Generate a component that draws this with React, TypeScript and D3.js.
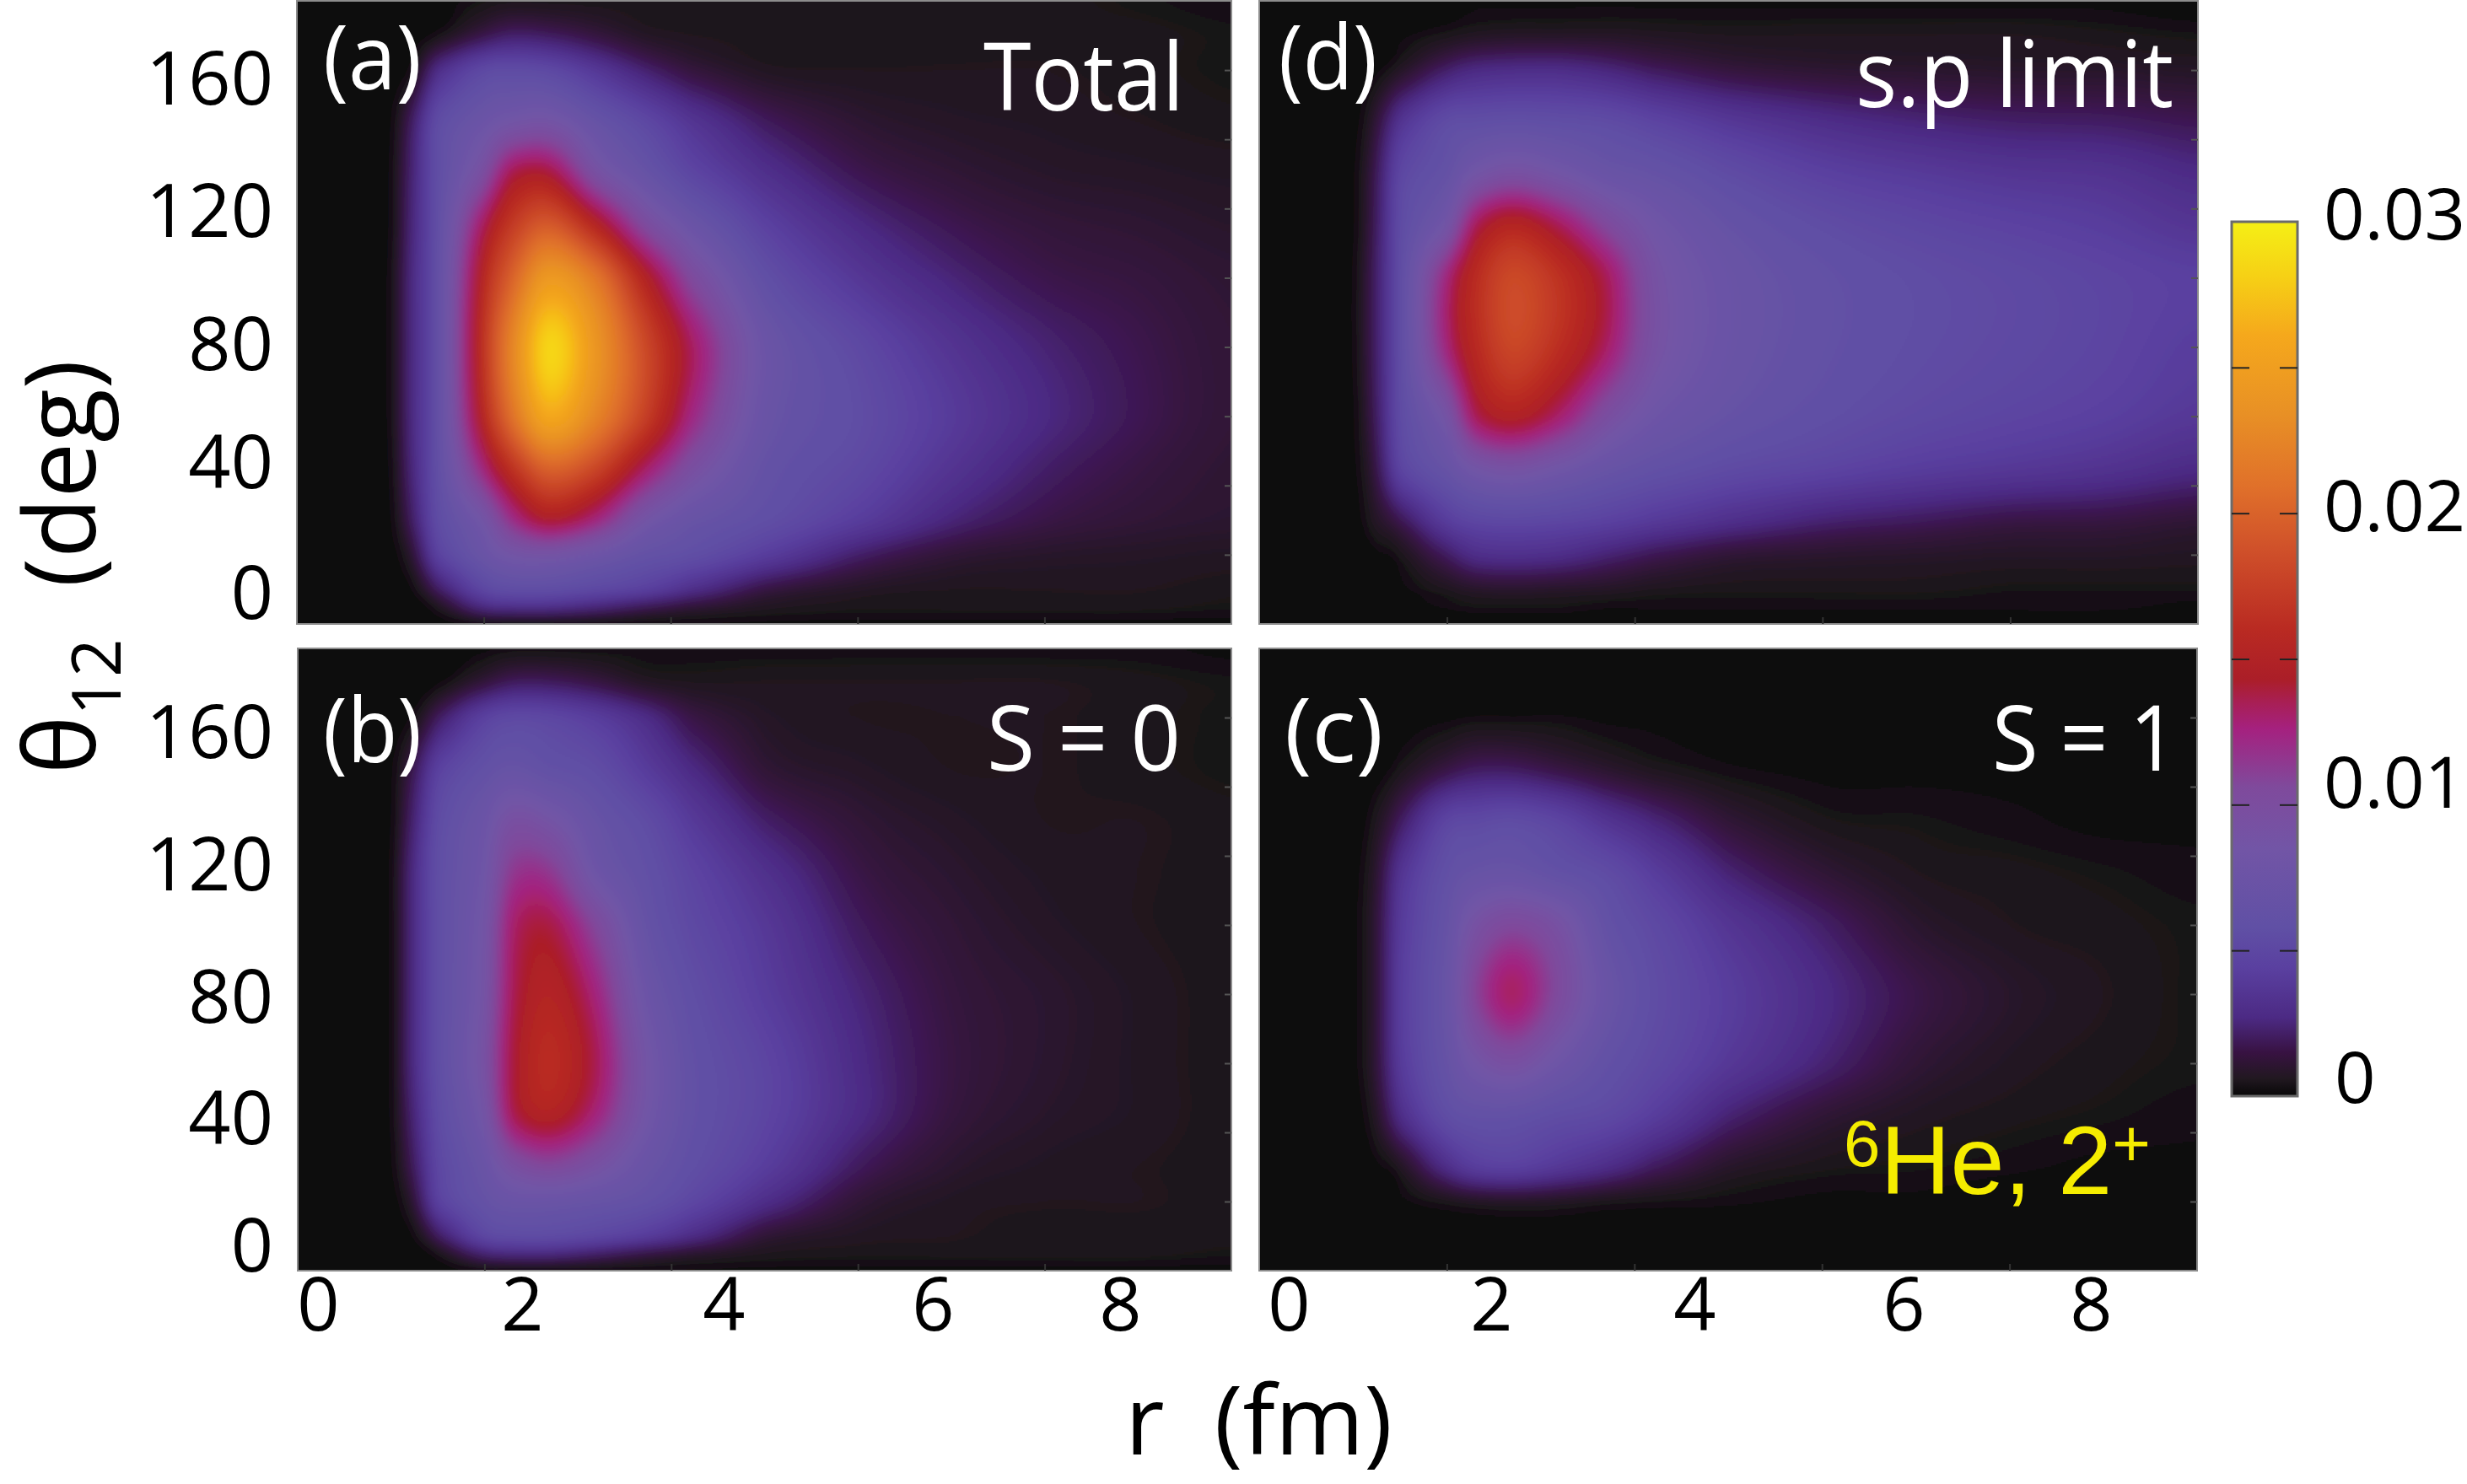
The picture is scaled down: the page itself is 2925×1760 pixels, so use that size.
import { useRef, useEffect } from "react";
import * as d3 from "d3";

// grid the maps were read on: r in fm (true frame axis 0-10), theta in deg, top row first
const rGrid = [0, 0.7, 1, 1.25, 1.5, 2, 2.3, 2.7, 3.2, 3.7, 4.2, 5, 6, 7, 8, 9, 10];
const thetaGrid = [180, 170, 160, 145, 130, 115, 100, 80, 60, 45, 30, 20, 10, 5, 0];

const totalMap = [
  [0, 0, 0, 0, 0.0001, 0.0004, 0.0005, 0.0005, 0.0005, 0.0005, 0.0005, 0.0005, 0.0005, 0.0005, 0.0005, 0.0004, 0.0003],
  [0, 0, 0, 0.0001, 0.0004, 0.0016, 0.0022, 0.002, 0.0014, 0.0008, 0.0006, 0.0005, 0.0005, 0.0005, 0.0005, 0.0005, 0.0004],
  [0, 0, 0, 0.0005, 0.003, 0.0052, 0.0055, 0.0052, 0.0038, 0.0024, 0.0014, 0.0007, 0.0006, 0.0006, 0.0006, 0.0005, 0.0004],
  [0, 0, 0.0001, 0.0022, 0.0055, 0.0075, 0.0085, 0.0088, 0.0068, 0.0052, 0.0036, 0.002, 0.0011, 0.0008, 0.0007, 0.0006, 0.0005],
  [0, 0, 0.0002, 0.0026, 0.0058, 0.0098, 0.0138, 0.0142, 0.0095, 0.007, 0.005, 0.0032, 0.0018, 0.0012, 0.0009, 0.0008, 0.0007],
  [0, 0, 0.0002, 0.0028, 0.006, 0.0135, 0.0172, 0.0195, 0.0155, 0.0105, 0.0075, 0.0046, 0.0028, 0.0018, 0.0013, 0.0011, 0.0009],
  [0, 0, 0.0003, 0.003, 0.0062, 0.0155, 0.02, 0.0245, 0.0215, 0.0155, 0.0105, 0.006, 0.0038, 0.0025, 0.0017, 0.0014, 0.0011],
  [0, 0, 0.0003, 0.003, 0.0062, 0.0165, 0.0225, 0.0285, 0.024, 0.0185, 0.0135, 0.0075, 0.0052, 0.0035, 0.0024, 0.0017, 0.0012],
  [0, 0, 0.0003, 0.003, 0.0062, 0.0155, 0.021, 0.026, 0.0225, 0.0178, 0.0125, 0.0072, 0.0056, 0.004, 0.0027, 0.0018, 0.0012],
  [0, 0, 0.0002, 0.0028, 0.006, 0.0125, 0.0165, 0.02, 0.018, 0.0135, 0.0098, 0.0065, 0.0052, 0.0035, 0.0022, 0.0015, 0.0011],
  [0, 0, 0.0001, 0.0022, 0.0055, 0.0085, 0.012, 0.0145, 0.0125, 0.0088, 0.007, 0.0058, 0.0042, 0.0025, 0.0016, 0.0012, 0.001],
  [0, 0, 0, 0.0012, 0.0045, 0.0072, 0.0085, 0.0088, 0.0078, 0.0065, 0.0058, 0.0042, 0.0022, 0.0012, 0.0009, 0.0008, 0.0007],
  [0, 0, 0, 0.0003, 0.002, 0.005, 0.0058, 0.0058, 0.0052, 0.0045, 0.0032, 0.0015, 0.0008, 0.0006, 0.0006, 0.0006, 0.0005],
  [0, 0, 0, 0, 0.0006, 0.0028, 0.0032, 0.0032, 0.0026, 0.0018, 0.0012, 0.0007, 0.0005, 0.0005, 0.0005, 0.0005, 0.0004],
  [0, 0, 0, 0, 0, 0.0002, 0.0002, 0.0002, 0.0002, 0.0002, 0.0002, 0.0002, 0.0002, 0.0002, 0.0002, 0.0002, 0.0002],
];

const spLimitMap = [
  [0, 0, 0, 0, 0, 0.0001, 0.0002, 0.0002, 0.0002, 0.0002, 0.0002, 0.0002, 0.0002, 0.0002, 0.0002, 0.0002, 0.0001],
  [0, 0, 0, 0, 0.0002, 0.0005, 0.0007, 0.0008, 0.0008, 0.0008, 0.0007, 0.0006, 0.0006, 0.0006, 0.0006, 0.0005, 0.0004],
  [0, 0, 0, 0.0002, 0.0008, 0.0022, 0.0028, 0.003, 0.003, 0.0026, 0.002, 0.0014, 0.0011, 0.001, 0.0009, 0.0009, 0.0008],
  [0, 0, 0, 0.0012, 0.0035, 0.0055, 0.0058, 0.006, 0.0058, 0.0055, 0.0048, 0.0038, 0.003, 0.0025, 0.0022, 0.0021, 0.0018],
  [0, 0, 0.0001, 0.0018, 0.005, 0.0065, 0.0085, 0.0095, 0.0085, 0.0072, 0.0066, 0.0055, 0.0045, 0.004, 0.0036, 0.0034, 0.0028],
  [0, 0, 0.0001, 0.002, 0.0055, 0.0085, 0.0135, 0.0155, 0.0135, 0.0105, 0.0082, 0.0066, 0.0056, 0.005, 0.0046, 0.0042, 0.0036],
  [0, 0, 0.0002, 0.0022, 0.0058, 0.0125, 0.016, 0.0182, 0.0165, 0.0135, 0.0092, 0.0072, 0.0062, 0.0056, 0.0052, 0.0048, 0.0044],
  [0, 0, 0.0002, 0.0022, 0.0058, 0.0125, 0.0158, 0.018, 0.0162, 0.0132, 0.0092, 0.0072, 0.0062, 0.0056, 0.0052, 0.0048, 0.0042],
  [0, 0, 0.0001, 0.002, 0.0055, 0.0088, 0.0135, 0.015, 0.013, 0.0098, 0.0078, 0.0066, 0.0058, 0.0052, 0.0048, 0.0044, 0.0038],
  [0, 0, 0.0001, 0.0015, 0.0048, 0.0068, 0.0085, 0.0092, 0.0082, 0.007, 0.0062, 0.0054, 0.0048, 0.0042, 0.0038, 0.0034, 0.0028],
  [0, 0, 0, 0.0008, 0.0018, 0.0042, 0.005, 0.0052, 0.005, 0.0046, 0.004, 0.0032, 0.0024, 0.002, 0.0016, 0.0015, 0.0012],
  [0, 0, 0, 0.0002, 0.0005, 0.002, 0.003, 0.0032, 0.003, 0.0024, 0.0018, 0.0012, 0.001, 0.0009, 0.0008, 0.0008, 0.0007],
  [0, 0, 0, 0, 0.0002, 0.0006, 0.0009, 0.001, 0.0009, 0.0008, 0.0006, 0.0005, 0.0005, 0.0005, 0.0004, 0.0004, 0.0004],
  [0, 0, 0, 0, 0.0001, 0.0003, 0.0004, 0.0004, 0.0004, 0.0003, 0.0003, 0.0003, 0.0003, 0.0003, 0.0003, 0.0003, 0.0002],
  [0, 0, 0, 0, 0, 0, 0.0001, 0.0001, 0.0001, 0.0001, 0.0001, 0.0001, 0.0001, 0.0001, 0.0001, 0.0001, 0.0001],
];

const spinZeroMap = [
  [0, 0, 0, 0, 0, 0.0002, 0.0003, 0.0003, 0.0003, 0.0003, 0.0003, 0.0003, 0.0003, 0.0003, 0.0003, 0.0003, 0.0002],
  [0, 0, 0, 0, 0.0002, 0.0013, 0.002, 0.002, 0.0015, 0.0008, 0.0006, 0.0006, 0.0006, 0.0006, 0.0006, 0.0005, 0.0004],
  [0, 0, 0, 0.0004, 0.002, 0.0045, 0.0052, 0.005, 0.0042, 0.003, 0.0016, 0.0008, 0.0006, 0.0006, 0.0006, 0.0005, 0.0004],
  [0, 0, 0.0001, 0.0018, 0.0045, 0.0062, 0.0068, 0.0062, 0.0056, 0.0042, 0.0028, 0.0012, 0.0008, 0.0006, 0.0006, 0.0005, 0.0004],
  [0, 0, 0.0001, 0.0025, 0.0055, 0.0075, 0.0095, 0.0088, 0.0068, 0.0056, 0.004, 0.0022, 0.0012, 0.0008, 0.0006, 0.0006, 0.0005],
  [0, 0, 0.0002, 0.003, 0.0058, 0.008, 0.0115, 0.0115, 0.0078, 0.0062, 0.0048, 0.0032, 0.0016, 0.001, 0.0007, 0.0006, 0.0005],
  [0, 0, 0.0002, 0.003, 0.0058, 0.0085, 0.013, 0.0138, 0.0105, 0.0068, 0.0052, 0.0038, 0.002, 0.0012, 0.0008, 0.0006, 0.0005],
  [0, 0, 0.0002, 0.003, 0.0058, 0.0088, 0.0135, 0.0152, 0.0125, 0.0078, 0.0058, 0.0042, 0.0025, 0.0014, 0.001, 0.0007, 0.0005],
  [0, 0, 0.0002, 0.003, 0.0058, 0.0092, 0.014, 0.016, 0.0135, 0.0088, 0.0062, 0.0048, 0.0028, 0.0015, 0.001, 0.0007, 0.0005],
  [0, 0, 0.0002, 0.0026, 0.0055, 0.0085, 0.0135, 0.015, 0.0125, 0.0085, 0.0062, 0.0048, 0.0028, 0.0014, 0.0009, 0.0007, 0.0005],
  [0, 0, 0.0001, 0.002, 0.005, 0.0072, 0.0095, 0.0105, 0.0092, 0.0072, 0.0058, 0.0042, 0.002, 0.001, 0.0007, 0.0006, 0.0005],
  [0, 0, 0, 0.0012, 0.0045, 0.0065, 0.0072, 0.0072, 0.0068, 0.0062, 0.005, 0.003, 0.0012, 0.0007, 0.0006, 0.0006, 0.0005],
  [0, 0, 0, 0.0003, 0.002, 0.005, 0.0055, 0.0055, 0.005, 0.0042, 0.003, 0.0012, 0.0007, 0.0006, 0.0005, 0.0005, 0.0005],
  [0, 0, 0, 0, 0.0005, 0.0024, 0.0028, 0.0028, 0.0022, 0.0015, 0.001, 0.0006, 0.0005, 0.0005, 0.0005, 0.0005, 0.0004],
  [0, 0, 0, 0, 0, 0.0002, 0.0002, 0.0002, 0.0002, 0.0002, 0.0002, 0.0002, 0.0002, 0.0002, 0.0002, 0.0002, 0.0002],
];

const spinOneMap = [
  [0, 0, 0, 0, 0, 0, 0, 0, 0, 0, 0, 0, 0, 0, 0, 0, 0],
  [0, 0, 0, 0, 0, 0.0001, 0.0001, 0.0001, 0.0001, 0.0001, 0.0001, 0.0001, 0.0001, 0.0001, 0.0001, 0.0001, 0.0001],
  [0, 0, 0, 0, 0.0001, 0.0002, 0.0003, 0.0003, 0.0003, 0.0002, 0.0002, 0.0002, 0.0002, 0.0002, 0.0002, 0.0001, 0.0001],
  [0, 0, 0, 0.0001, 0.0005, 0.0015, 0.002, 0.002, 0.0015, 0.001, 0.0006, 0.0003, 0.0002, 0.0002, 0.0002, 0.0002, 0.0001],
  [0, 0, 0, 0.0006, 0.002, 0.0048, 0.0052, 0.0055, 0.0048, 0.0035, 0.0025, 0.0012, 0.0005, 0.0004, 0.0003, 0.0002, 0.0002],
  [0, 0, 0.0001, 0.001, 0.0035, 0.006, 0.0068, 0.007, 0.0062, 0.0055, 0.0042, 0.0024, 0.0012, 0.0006, 0.0005, 0.0004, 0.0003],
  [0, 0, 0.0001, 0.0012, 0.004, 0.0066, 0.0092, 0.0105, 0.0092, 0.0064, 0.0052, 0.0036, 0.0022, 0.001, 0.0006, 0.0005, 0.0004],
  [0, 0, 0.0001, 0.0012, 0.0042, 0.007, 0.0108, 0.0132, 0.0102, 0.0072, 0.0056, 0.0042, 0.0028, 0.0016, 0.0009, 0.0006, 0.0004],
  [0, 0, 0.0001, 0.0012, 0.004, 0.0066, 0.0085, 0.0095, 0.0078, 0.0062, 0.0052, 0.0038, 0.0024, 0.0012, 0.0007, 0.0005, 0.0004],
  [0, 0, 0, 0.0008, 0.003, 0.0056, 0.0062, 0.0062, 0.0056, 0.0052, 0.0042, 0.0024, 0.0012, 0.0007, 0.0005, 0.0004, 0.0003],
  [0, 0, 0, 0.0002, 0.0007, 0.003, 0.0042, 0.0045, 0.0038, 0.003, 0.002, 0.0009, 0.0005, 0.0004, 0.0003, 0.0002, 0.0002],
  [0, 0, 0, 0, 0.0002, 0.0005, 0.0007, 0.0008, 0.0007, 0.0005, 0.0004, 0.0003, 0.0002, 0.0002, 0.0001, 0.0001, 0.0001],
  [0, 0, 0, 0, 0, 0.0001, 0.0001, 0.0001, 0.0001, 0.0001, 0.0001, 0.0001, 0.0001, 0, 0, 0, 0],
  [0, 0, 0, 0, 0, 0, 0, 0, 0, 0, 0, 0, 0, 0, 0, 0, 0],
  [0, 0, 0, 0, 0, 0, 0, 0, 0, 0, 0, 0, 0, 0, 0, 0, 0],
];

// colour bar
const colorValues = [0, 0.0006, 0.0015, 0.0027, 0.0044, 0.0058, 0.0085, 0.0106, 0.0126, 0.0135, 0.0143, 0.016, 0.0188, 0.0209, 0.0234, 0.0261, 0.0281, 0.0298, 0.03];
const colorHexes = ["#070707", "#211820", "#381242", "#4c2a84", "#5a40a0", "#6050a5", "#7255a6", "#7f4a9c", "#a5217f", "#a81f55", "#ab1e28", "#b92a22", "#d0512a", "#e0702a", "#e89025", "#f5a81c", "#f6d015", "#f5ec15", "#f5ec15"];

const xTicks = [0, 2, 4, 6, 8];
const yTicks = [0, 40, 80, 120, 160];
const frameXTicks = [2, 4, 6, 8];
const frameYTicks = [20, 40, 60, 80, 100, 120, 140, 160];
const legendLabels = [0, 0.01, 0.02, 0.03];
const legendTicks = [0.005, 0.01, 0.015, 0.02, 0.025];

const color = d3.scaleLinear<string>().domain(colorValues).range(colorHexes).clamp(true);

function catmull(v: number[], t: number) {
  const n = v.length - 1;
  const s = Math.max(0, Math.min(n, t));
  const i = Math.min(Math.floor(s), n - 1);
  const f = s - i;
  const p0 = v[Math.max(i - 1, 0)], p1 = v[i], p2 = v[i + 1], p3 = v[Math.min(i + 2, n)];
  return 0.5 * (2 * p1 + (p2 - p0) * f + (2 * p0 - 5 * p1 + 4 * p2 - p3) * f * f + (3 * p1 - p0 - 3 * p2 + p3) * f * f * f);
}

// image covers a bit more than the frame so the blur does not darken the edges
function mapImage(values: number[][], w: number, h: number, rExtent: number[], tExtent: number[]) {
  const canvas = document.createElement("canvas");
  canvas.width = w;
  canvas.height = h;
  const ctx = canvas.getContext("2d")!;
  const img = ctx.createImageData(w, h);
  const rIndex = d3.scaleLinear().domain(rGrid).range(d3.range(rGrid.length));
  const tIndex = d3.scaleLinear().domain(thetaGrid).range(d3.range(thetaGrid.length));
  const px = d3.scaleLinear().domain([0, w]).range(rExtent);
  const py = d3.scaleLinear().domain([0, h]).range(tExtent);
  const lut = d3.range(1025).map((i) => d3.rgb(color((i / 1024) * 0.03)));
  for (let x = 0; x < w; x++) {
    const column = values.map((row) => catmull(row, rIndex(px(x + 0.5))));
    for (let y = 0; y < h; y++) {
      const v = catmull(column, tIndex(py(y + 0.5)));
      const c = lut[Math.max(0, Math.min(1024, Math.round((v / 0.03) * 1024)))];
      const k = (y * w + x) * 4;
      img.data[k] = c.r;
      img.data[k + 1] = c.g;
      img.data[k + 2] = c.b;
      img.data[k + 3] = 255;
    }
  }
  ctx.putImageData(img, 0, 0);
  return canvas.toDataURL();
}

const sans = "'Open Sans', sans-serif";
const pad = 24;

const panels = [
  { id: "a", values: totalMap, x: 352, y: 1, w: 1108, h: 739, tag: "(a)", tagX: 383, tagY: 106, name: "Total", nameX: 1166, nameY: 131, nameSize: 112, nameW: 238, yLabels: [705, 550, 410, 252, 95], xLabels: null },
  { id: "d", values: spLimitMap, x: 1493, y: 1, w: 1113, h: 739, tag: "(d)", tagX: 1516, tagY: 106, name: "s.p limit", nameX: 2200, nameY: 127, nameSize: 110, nameW: 377, yLabels: null, xLabels: null },
  { id: "b", values: spinZeroMap, x: 353, y: 769, w: 1107, h: 738, tag: "(b)", tagX: 383, tagY: 904, name: "S = 0", nameX: 1170, nameY: 914, nameSize: 108, nameW: 230, yLabels: [1479, 1328, 1184, 1027, 870], xLabels: [377, 619, 858, 1106, 1328] },
  { id: "c", values: spinOneMap, x: 1493, y: 769, w: 1112, h: 738, tag: "(c)", tagX: 1523, tagY: 904, name: "S = 1", nameX: 2362, nameY: 914, nameSize: 108, nameW: 220, yLabels: null, xLabels: [1528, 1768, 2009, 2257, 2479] },
];

export default function App() {
  const ref = useRef<SVGSVGElement>(null);

  useEffect(() => {
    const svg = d3.select(ref.current);
    svg.selectAll("*").remove();
    svg.style("position", "absolute").style("left", 0).style("top", 0).style("background", "#fff");
    const defs = svg.append("defs");
    const soft = defs.append("filter")
      .attr("id", "soft")
      .attr("filterUnits", "objectBoundingBox")
      .attr("x", 0).attr("y", 0).attr("width", 1).attr("height", 1);
    soft.append("feGaussianBlur").attr("stdDeviation", 6);

    panels.forEach((p) => {
      const g = svg.append("g");
      const x = d3.scaleLinear().domain([0, 10]).range([p.x, p.x + p.w]);
      const y = d3.scaleLinear().domain([0, 180]).range([p.y + p.h, p.y]);

      defs.append("clipPath").attr("id", "clip-" + p.id)
        .append("rect").attr("x", p.x).attr("y", p.y).attr("width", p.w).attr("height", p.h);

      g.append("g")
        .attr("clip-path", `url(#clip-${p.id})`)
        .append("image")
        .attr("x", p.x - pad)
        .attr("y", p.y - pad)
        .attr("width", p.w + 2 * pad)
        .attr("height", p.h + 2 * pad)
        .attr("preserveAspectRatio", "none")
        .attr("filter", "url(#soft)")
        .attr("href", mapImage(
          p.values,
          Math.round((p.w + 2 * pad) / 2),
          Math.round((p.h + 2 * pad) / 2),
          [x.invert(p.x - pad), x.invert(p.x + p.w + pad)],
          [y.invert(p.y - pad), y.invert(p.y + p.h + pad)],
        ));

      g.append("rect")
        .attr("x", p.x)
        .attr("y", p.y)
        .attr("width", p.w)
        .attr("height", p.h)
        .attr("fill", "none")
        .attr("stroke", "#8c8c8c")
        .attr("stroke-width", 2);

      // faint frame ticks, they barely show on the dark map
      const right = g.append("g")
        .attr("transform", `translate(${p.x + p.w},0)`)
        .call(d3.axisLeft(y).tickValues(frameYTicks).tickSize(8).tickFormat(() => ""));
      right.select(".domain").remove();
      right.selectAll("line").attr("stroke", "#555").attr("stroke-width", 2);
      const bottom = g.append("g")
        .attr("transform", `translate(0,${p.y + p.h})`)
        .call(d3.axisTop(x).tickValues(frameXTicks).tickSize(8).tickFormat(() => ""));
      bottom.select(".domain").remove();
      bottom.selectAll("line").attr("stroke", "#333").attr("stroke-width", 2);

      g.append("text")
        .attr("x", p.tagX)
        .attr("y", p.tagY)
        .attr("fill", "#fff")
        .attr("font-family", sans)
        .attr("font-size", 106)
        .attr("textLength", 117)
        .attr("lengthAdjust", "spacingAndGlyphs")
        .text(p.tag);

      g.append("text")
        .attr("x", p.nameX)
        .attr("y", p.nameY)
        .attr("fill", "#fff")
        .attr("font-family", sans)
        .attr("font-size", p.nameSize)
        .attr("textLength", p.nameW)
        .attr("lengthAdjust", "spacingAndGlyphs")
        .text(p.name);

      // the printed labels sit off the true tick positions, so they get their own scales
      if (p.yLabels) {
        const yLab = d3.scaleLinear().domain(yTicks).range(p.yLabels);
        const axis = g.append("g")
          .attr("transform", "translate(324,0)")
          .call(d3.axisLeft(yLab).tickValues(yTicks).tickSize(0).tickPadding(0));
        axis.select(".domain").remove();
        axis.selectAll("text").attr("font-family", sans).attr("font-size", 88).attr("fill", "#000");
      }
      if (p.xLabels) {
        const xLab = d3.scaleLinear().domain(xTicks).range(p.xLabels);
        const axis = g.append("g")
          .attr("transform", "translate(0,1578)")
          .call(d3.axisBottom(xLab).tickValues(xTicks).tickSize(0).tickPadding(0));
        axis.select(".domain").remove();
        axis.selectAll("text").attr("font-family", sans).attr("font-size", 88).attr("fill", "#000").attr("dy", 0).attr("y", 0);
      }
    });

    // yellow state label in panel (c)
    const he = svg.append("text")
      .attr("x", 2186)
      .attr("y", 1416)
      .attr("fill", "#f5ec00")
      .attr("font-family", "'Liberation Sans', sans-serif")
      .attr("font-size", 115);
    he.append("tspan").attr("font-size", 78).attr("dy", -33).text("6");
    he.append("tspan").attr("dy", 33).text("He, 2");
    he.append("tspan").attr("font-size", 78).attr("dy", -33).text("+");

    // colour bar
    const legend = d3.scaleLinear().domain([0, 0.03]).range([1300, 263]);
    const grad = defs.append("linearGradient")
      .attr("id", "bar")
      .attr("x1", 0).attr("x2", 0).attr("y1", 1).attr("y2", 0);
    colorValues.forEach((v, i) => {
      grad.append("stop").attr("offset", v / 0.03).attr("stop-color", colorHexes[i]);
    });
    svg.append("rect")
      .attr("x", 2646)
      .attr("y", legend(0.03))
      .attr("width", 78)
      .attr("height", legend(0) - legend(0.03))
      .attr("fill", "url(#bar)")
      .attr("stroke", "#6b6b6b")
      .attr("stroke-width", 3);
    [[2646, 1], [2724, -1]].forEach(([tx, dir]) => {
      const a = svg.append("g")
        .attr("transform", `translate(${tx},0)`)
        .call((dir > 0 ? d3.axisRight(legend) : d3.axisLeft(legend)).tickValues(legendTicks).tickSize(21).tickFormat(() => ""));
      a.select(".domain").remove();
      a.selectAll("line").attr("stroke", "#222").attr("stroke-width", 2);
    });
    const legendLab = d3.scaleLinear().domain(legendLabels).range([1280, 930, 602, 256]);
    const la = svg.append("g")
      .attr("transform", "translate(2755,0)")
      .call(d3.axisRight(legendLab).tickValues(legendLabels).tickSize(0).tickPadding(0).tickFormat((d) => (d === 0 ? "0" : d3.format(".2f")(d as number))));
    la.select(".domain").remove();
    la.selectAll("text").attr("font-family", sans).attr("font-size", 85).attr("fill", "#000");
    la.selectAll("text").filter((d) => d === 0).attr("x", 13);

    // axis titles
    svg.append("text")
      .attr("x", 1334)
      .attr("y", 1725)
      .attr("font-family", sans)
      .attr("font-size", 114)
      .style("white-space", "pre")
      .text("r  (fm)");

    const yt = svg.append("text")
      .attr("transform", "translate(113,918) rotate(-90)")
      .attr("font-family", sans)
      .attr("font-size", 117)
      .style("white-space", "pre");
    yt.append("tspan").text("θ");
    yt.append("tspan").attr("font-size", 80).attr("dy", 30).text("12");
    yt.append("tspan").attr("dy", -30).text("  (deg)");
  }, []);

  return <svg ref={ref} width={2925} height={1760} />;
}
